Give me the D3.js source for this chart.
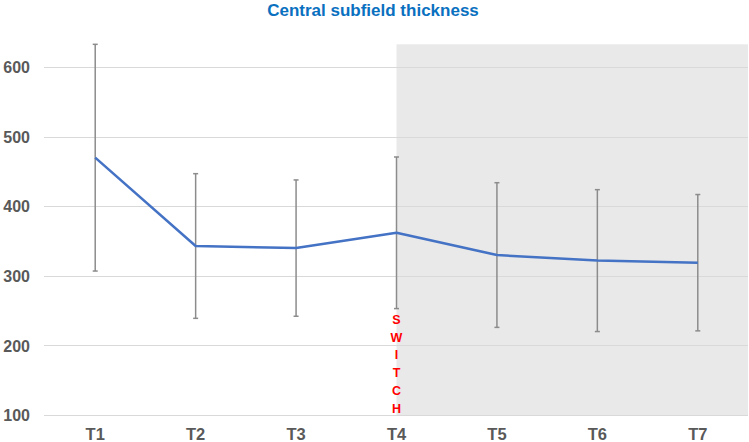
<!DOCTYPE html>
<meta charset="utf-8">
<style>
body { margin: 0; background: #fff; }
text { font-family: "Liberation Sans", Arial, sans-serif; }
.tick text { font-size: 16px; font-weight: bold; fill: #595959; }
</style>
<body>
<script src="https://cdn.jsdelivr.net/npm/d3@7"></script>
<script>

var timepoints = ["T1", "T2", "T3", "T4", "T5", "T6", "T7"];
var meanCST = [470, 343, 340, 362, 330, 322, 319];
var sdCST = [163, 104, 98, 109, 104, 102, 98];
var yTicks = [100, 200, 300, 400, 500, 600];
var switchAt = "T4";
var switchWord = "SWITCH";

var width = 749,
    height = 442;

var x = d3.scaleBand()
    .domain(timepoints)
    .range([45, 748]);

var y = d3.scaleLinear()
    .domain([100, 650])
    .range([415, 32.5]);

var svg = d3.select("body").append("svg")
    .attr("width", width)
    .attr("height", height);

// shaded period after the switch
var sx = x(switchAt) + x.bandwidth() / 2;
svg.append("rect")
    .attr("x", sx)
    .attr("y", y(633))
    .attr("width", 748 - sx)
    .attr("height", y(100) - y(633))
    .style("fill", "#e9e9e9");

// gridlines
svg.append("g")
  .selectAll("line")
  .data(yTicks)
  .enter().append("line")
    .attr("x1", 44)
    .attr("x2", 748)
    .attr("y1", function(d) { return Math.round(y(d)) + 0.5; })
    .attr("y2", function(d) { return Math.round(y(d)) + 0.5; })
    .style("stroke", "#d9d9d9")
    .style("stroke-width", 1);

// y axis labels
var yAxis = svg.append("g")
    .attr("transform", "translate(42,0)")
    .call(d3.axisLeft(y).tickValues(yTicks).tickSize(0).tickPadding(12));
yAxis.select(".domain").remove();
yAxis.selectAll(".tick text").attr("dy", "0.35em");

// x axis labels
var xAxis = svg.append("g")
    .attr("transform", "translate(0," + 428 + ")")
    .call(d3.axisBottom(x).tickSize(0).tickPadding(0));
xAxis.select(".domain").remove();
xAxis.selectAll(".tick text")
    .attr("dy", "0.75em")
    .style("font-size", "16.5px");

var data = timepoints.map(function(t, i) {
  return { t: t, mean: meanCST[i], sd: sdCST[i] };
});
var cx = function(d) { return x(d.t) + x.bandwidth() / 2; };

// error bars
var eb = svg.append("g")
  .selectAll("g")
  .data(data)
  .enter().append("g")
    .style("stroke", "#8c8c8c")
    .style("stroke-width", 1.5);
eb.append("line")
    .attr("x1", cx).attr("x2", cx)
    .attr("y1", function(d) { return y(d.mean + d.sd); })
    .attr("y2", function(d) { return y(d.mean - d.sd); });
eb.append("line")
    .attr("x1", function(d) { return cx(d) - 2.5; })
    .attr("x2", function(d) { return cx(d) + 2.5; })
    .attr("y1", function(d) { return y(d.mean + d.sd); })
    .attr("y2", function(d) { return y(d.mean + d.sd); });
eb.append("line")
    .attr("x1", function(d) { return cx(d) - 2.5; })
    .attr("x2", function(d) { return cx(d) + 2.5; })
    .attr("y1", function(d) { return y(d.mean - d.sd); })
    .attr("y2", function(d) { return y(d.mean - d.sd); });

// mean line
var line = d3.line()
    .x(cx)
    .y(function(d) { return y(d.mean); });
svg.append("path")
    .datum(data)
    .attr("d", line)
    .style("fill", "none")
    .style("stroke", "#4472c4")
    .style("stroke-width", 2.5)
    .style("stroke-linejoin", "round");

// SWITCH label, one letter per row
svg.append("g")
  .selectAll("text")
  .data(switchWord.split(""))
  .enter().append("text")
    .attr("x", sx)
    .attr("y", function(d, i) { return 324 + i * 17.7; })
    .attr("text-anchor", "middle")
    .style("font-size", "12.5px")
    .style("font-weight", "bold")
    .style("fill", "#ff0000")
    .text(function(d) { return d; });

// title
svg.append("text")
    .attr("x", 373)
    .attr("y", 16)
    .attr("text-anchor", "middle")
    .style("font-size", "17px")
    .style("font-weight", "bold")
    .style("fill", "#0a70c0")
    .text("Central subfield thickness");

</script>
</body>
